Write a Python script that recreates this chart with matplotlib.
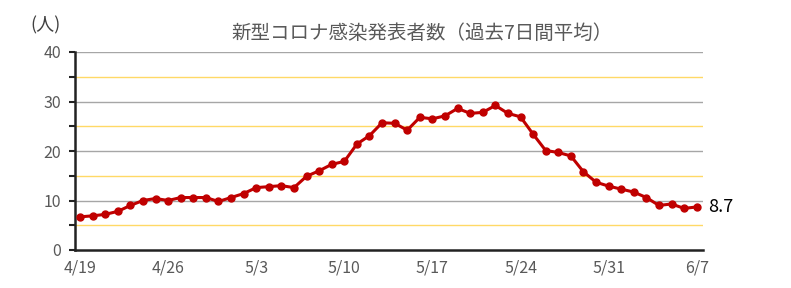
import numpy as np
import matplotlib.pyplot as plt

plt.rcParams['font.family'] = ['Noto Sans CJK JP', 'DejaVu Sans']

# 7日間平均の値 (4/19 ~ 6/7)
heikin = [6.7, 6.9, 7.2, 7.8, 9.0, 10.0, 10.4, 10.0, 10.6, 10.6,
          10.6, 9.8, 10.6, 11.4, 12.6, 12.8, 13.0, 12.6, 14.9, 16.0,
          17.3, 17.9, 21.4, 23.1, 25.7, 25.6, 24.2, 26.8, 26.5, 27.1,
          28.6, 27.6, 27.8, 29.2, 27.6, 26.9, 23.4, 20.1, 19.7, 19.0,
          15.8, 13.7, 12.9, 12.3, 11.7, 10.6, 9.0, 9.3, 8.4, 8.7]
etiquetas_x = ['4/19', '4/26', '5/3', '5/10', '5/17', '5/24', '5/31', '6/7']
ultimo_label = '8.7'

gris = '#595959'
dias = np.arange(len(heikin))

fig = plt.figure(figsize=(7.91, 2.88), dpi=100)
ax = fig.add_axes([75 / 791, 38 / 288, 628 / 791, 198 / 288])

ax.set_ylim(0, 40)
ax.set_xlim(-0.4, 49.5)

# lineas de la cuadricula
for v in [10, 20, 30, 40]:
    ax.axhline(v, color='#A6A6A6', lw=1.0, zorder=1)
for v in [5, 15, 25, 35]:
    ax.axhline(v, color='#FFD966', lw=1.0, zorder=1)

ax.plot(dias, heikin, color='#C00000', lw=2.2, marker='o', markersize=5,
        zorder=3)
ax.annotate(ultimo_label, (dias[-1], heikin[-1]), xytext=(8, 0),
            textcoords='offset points', va='center', ha='left',
            fontsize=13, color='black')

ax.set_yticks([0, 10, 20, 30, 40])
ax.set_yticks([5, 15, 25, 35], minor=True)
ax.set_xticks(dias[::7])
ax.set_xticklabels(etiquetas_x)
ax.tick_params(axis='y', which='both', direction='out', length=4, width=1.5,
               color='#222222', labelcolor=gris, labelsize=11.5, pad=6)
ax.tick_params(axis='x', length=0, labelcolor=gris, labelsize=11.5, pad=7)

for lado in ['top', 'right']:
    ax.spines[lado].set_visible(False)
ax.spines['left'].set_linewidth(1.8)
ax.spines['bottom'].set_linewidth(1.8)
ax.spines['left'].set_color('#222222')
ax.spines['bottom'].set_color('#222222')

fig.text(422 / 791, 1 - 33 / 288, '新型コロナ感染発表者数（過去7日間平均）',
         ha='center', va='center', fontsize=14, color=gris)
fig.text(45 / 791, 1 - 25 / 288, '(人)', ha='center', va='center',
         fontsize=13, color='#404040')

plt.savefig('out.png', dpi=100)
